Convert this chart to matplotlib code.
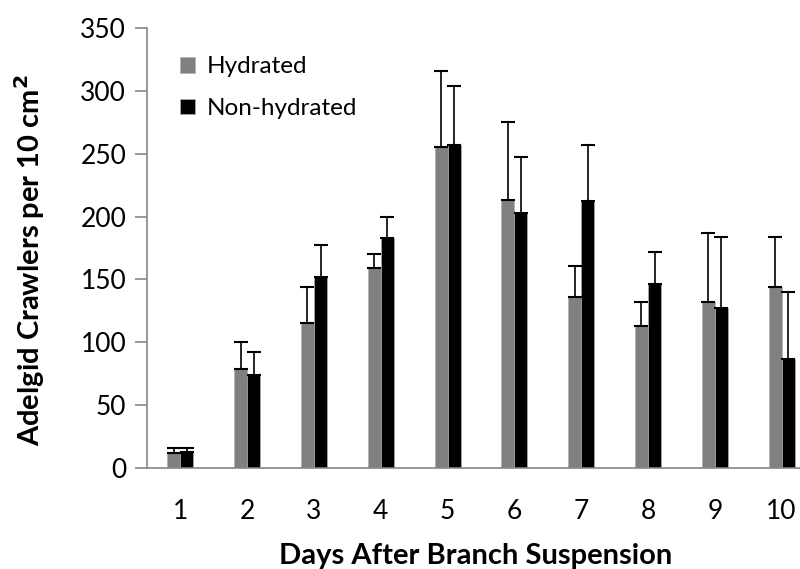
import matplotlib
matplotlib.use("Agg")
import matplotlib.pyplot as plt
import numpy as np

days = ["1", "2", "3", "4", "5", "6", "7", "8", "9", "10"]
hydrated = [12, 79, 115, 159, 255, 213, 136, 113, 132, 144]
hydrated_err = [4, 21, 29, 11, 61, 62, 25, 19, 55, 40]
nonhydrated = [13, 74, 152, 183, 257, 203, 212, 146, 127, 87]
nonhydrated_err = [3, 18, 25, 17, 47, 44, 45, 26, 57, 53]

plt.rcParams['font.family'] = ['Lato', 'DejaVu Sans']

fig = plt.figure(figsize=(8, 5.69), dpi=100)
W, H = 800, 569
left, right, top, bottom = 147, 815, 28, 468
ax = fig.add_axes([left / W, 1 - bottom / H, (right - left) / W, (bottom - top) / H])

x = np.arange(1, len(days) + 1)
bw = 0.195
axis_col = "#868686"
ax.bar(x - bw / 2, hydrated, bw, color="#808080", edgecolor="#b0b0b0", linewidth=0.5, label="Hydrated",
       yerr=[np.zeros(len(days)), hydrated_err], error_kw=dict(ecolor="black", elinewidth=1.2, capsize=5, capthick=1.5))
ax.bar(x + bw / 2, nonhydrated, bw, color="black", edgecolor="#b0b0b0", linewidth=0.5, label="Non-hydrated",
       yerr=[np.zeros(len(days)), nonhydrated_err], error_kw=dict(ecolor="black", elinewidth=1.2, capsize=5, capthick=1.5))

ax.set_xlim(0.5, 10.5)
ax.set_ylim(0, 350)
ax.set_yticks(range(0, 351, 50))
ax.set_xticks(x)
ax.set_xticklabels(days)
for s in ["top", "right"]:
    ax.spines[s].set_visible(False)
for s in ["left", "bottom"]:
    ax.spines[s].set_color(axis_col)
    ax.spines[s].set_linewidth(1.2)
ax.tick_params(axis="y", direction="out", length=9, color=axis_col, width=1.2, labelsize=19, pad=6)
ax.tick_params(axis="x", length=0, labelsize=19, pad=22)

fig.text(30 / W, 1 - 260 / H, "Adelgid Crawlers per 10 cm$^\\mathbf{2}$", fontsize=21, fontweight="bold",
         rotation=90, ha="center", va="center")
fig.text(476 / W, 1 - 564 / H, "Days After Branch Suspension", fontsize=21, fontweight="bold",
         ha="center", va="baseline")

leg = ax.legend(loc="upper left", bbox_to_anchor=(0.017, 0.985), frameon=False, fontsize=17.5,
                handlelength=0.6, handleheight=0.6, handletextpad=0.5, labelspacing=0.85)

fig.savefig("out.png", dpi=100)
